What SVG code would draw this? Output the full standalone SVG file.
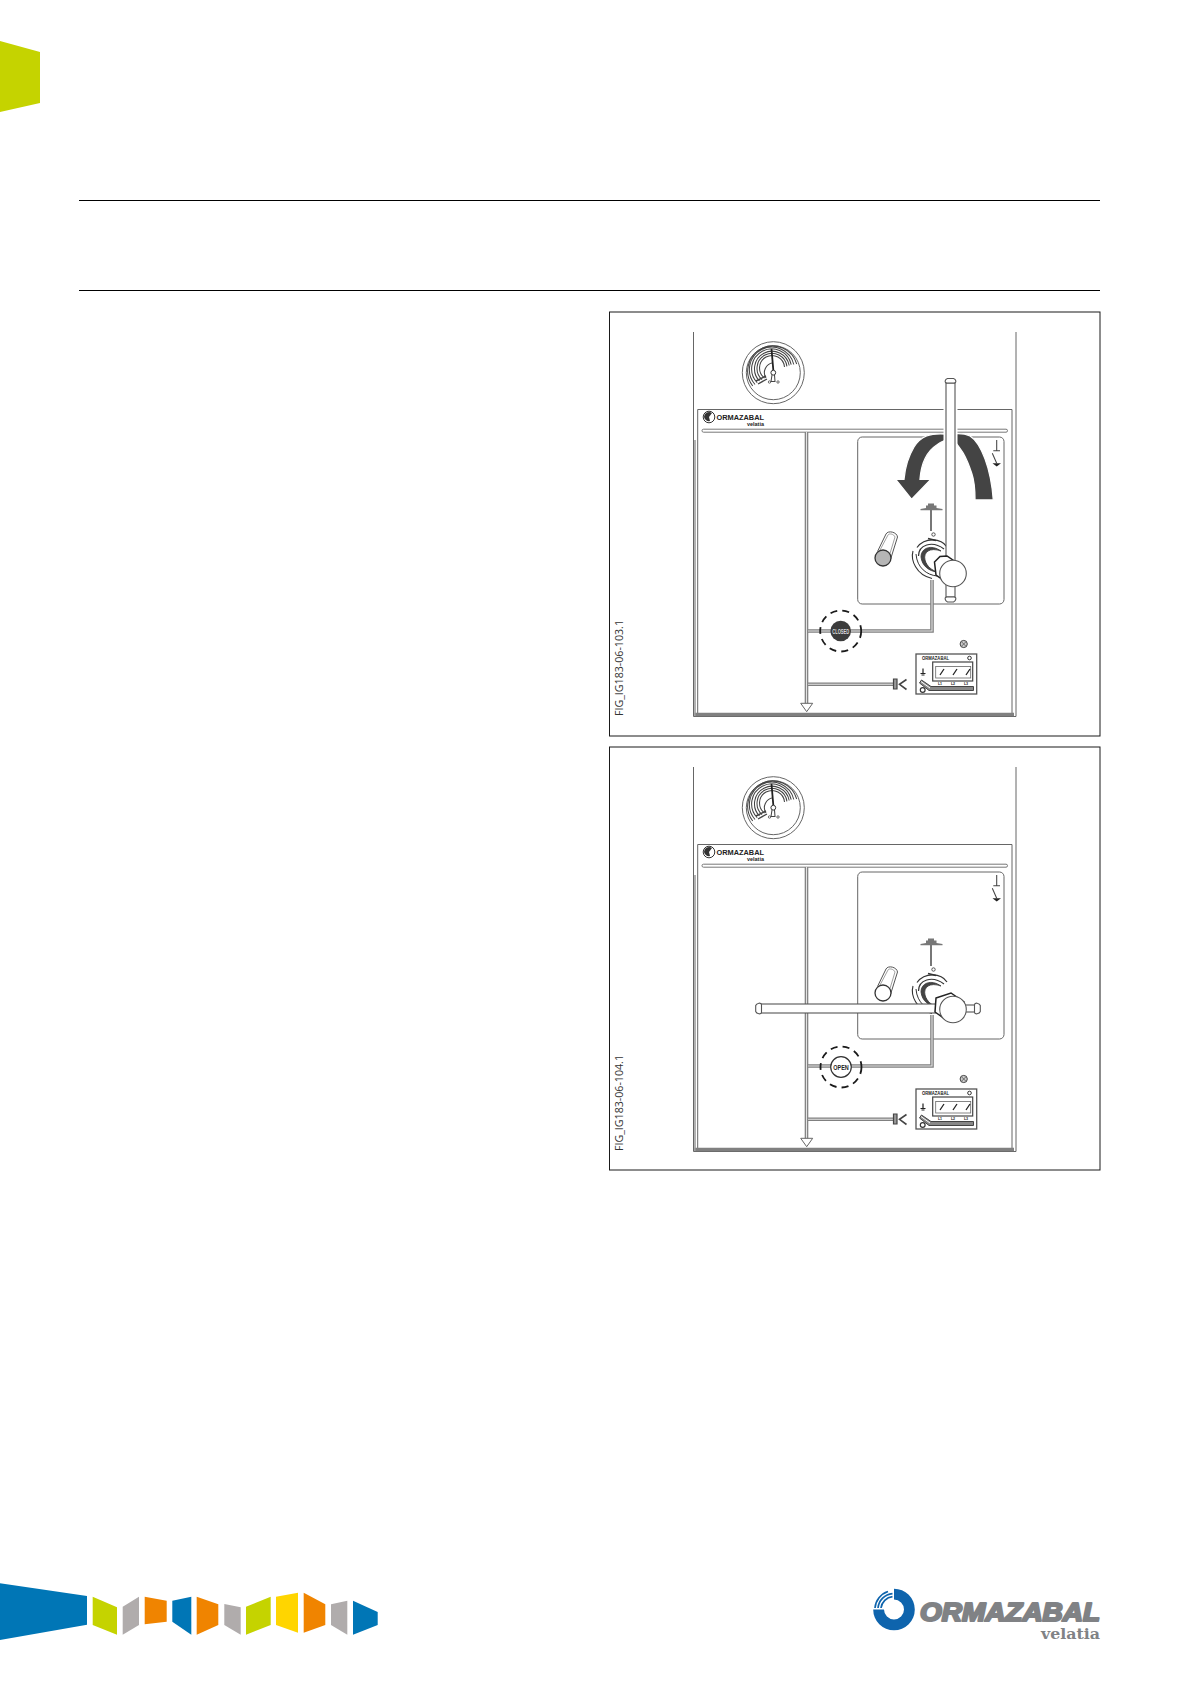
<svg xmlns="http://www.w3.org/2000/svg" width="1191" height="1684" viewBox="0 0 1191 1684">
<style>
.rule{stroke:#000;stroke-width:1;fill:none}
.frame{stroke:#1a1a1a;stroke-width:1;fill:#fff}
.thin{stroke:#666;stroke-width:1;fill:none}
.dbl{stroke:#808080;stroke-width:3.600;fill:none}
.dbi{stroke:#e4e4e4;stroke-width:1.100;fill:none}
.g{stroke:#444;stroke-width:1.050;fill:none}
.dash{stroke:#1a1a1a;stroke-width:1.800;fill:none;stroke-dasharray:7 5.200}
.fig{font-family:"Open Sans","Liberation Sans",sans-serif;font-size:10.500px;fill:#333}
.sm{font-family:"Liberation Sans",sans-serif;font-weight:bold;fill:#222}
.st{font-family:"Liberation Sans",sans-serif;font-weight:bold;text-anchor:middle}
</style>
<defs>
<g id="panel">
<path class="thin" stroke-width="1.400" d="M693.500 332V716.500H1016V332"/>
<path class="thin" d="M697.700 714V409.500H1012V714"/>
<path class="dbl" d="M694.500 714.500H1014"/>
<path d="M695 716V440" stroke="#999" stroke-width="1.500" fill="none"/>
<circle class="thin" cx="773.300" cy="372.700" r="31"/>
<circle class="thin" cx="773.300" cy="372.700" r="27"/>
<path class="g" d="M752.700 386A25 25 0 1 1 796.700 364M755 384.500A22.500 22.500 0 1 1 793.800 364.500M757.200 382.700A20 20 0 1 1 791.200 364.700M759.500 381A17.500 17.500 0 1 1 789.200 365.500M762 379.500A15 15 0 1 1 786.900 366.400M764.500 378A12.500 12.500 0 1 1 784.500 367M766 378A10 10 0 0 1 773 362.700"/>
<path d="M756 381L766 376M758 384L767 379" stroke="#444" stroke-width="1.400"/>
<path d="M771.500 349L773.300 370" stroke="#222" stroke-width="1.800"/>
<circle cx="773.300" cy="372.700" r="2.400" fill="#fff" stroke="#333"/>
<path class="g" d="M772 375L771 381.500H775L774.500 375"/>
<circle cx="769.500" cy="382" r="1.200" fill="#fff" stroke="#333" stroke-width=".7"/>
<circle cx="778" cy="382" r="1.200" fill="#fff" stroke="#333" stroke-width=".7"/>
<circle cx="709" cy="417" r="5.800" fill="#fff" stroke="#333"/>
<path d="M704 417A5 5 0 0 1 712 413L709 417L710 421A5 5 0 0 1 704 417Z" fill="#333"/>
<rect x="702" y="429.200" width="305.500" height="3" rx="1.500" fill="#fff" stroke="#777"/>
<path class="dbl" d="M806.500 432V704"/><path class="dbi" d="M806.500 432V704"/>
<path d="M800.700 703.300H812.700L806.700 711.700Z" fill="#fff" stroke="#666"/>
<rect class="thin" x="857.700" y="437" width="146.300" height="167" rx="4.500"/>
<path class="dbl" d="M808 631H932V580"/><path class="dbi" d="M808 631H932V580"/>
<path class="dbl" d="M808 684.300H893"/><path class="dbi" d="M808 684.300H893"/>
<path d="M893.500 679H897V689H893.500Z" fill="#999" stroke="#444" stroke-width="1.200"/>
<path d="M906.500 679.500L899.500 684.300L906.500 689.500" fill="none" stroke="#444" stroke-width="1.600"/>
<rect x="916" y="654" width="60.700" height="40" fill="#fff" stroke="#555" stroke-width="1.300"/>
<rect x="932.700" y="662" width="40" height="19" fill="none" stroke="#444" stroke-width="1.200"/>
<rect x="935.700" y="666.500" width="35" height="11.500" fill="none" stroke="#666" stroke-width=".8"/>
<path d="M940 675L944 669M953 675L957 669M966 675L970 669" stroke="#222" stroke-width="1.300"/>
<path d="M923 668.500V673.500M920.500 673.500H925.500M921.500 675H924.500" stroke="#222" stroke-width="1.200"/>
<path d="M921.500 680L931 686.500H973.500V690.500H929L919.500 683Z" fill="#888" stroke="#444" stroke-width="1"/>
<path d="M921 681.500L930 688" stroke="#fff"/>
<circle cx="922.700" cy="690" r="2.400" fill="#fff" stroke="#333" stroke-width="1.200"/>
<circle cx="969.500" cy="658" r="1.800" fill="#fff" stroke="#333"/>
<circle cx="963.700" cy="644" r="3.600" fill="#ccc" stroke="#444"/>
<path d="M961.700 642L965.700 646M965.700 642L961.700 646" stroke="#444" stroke-width=".7"/>
<path d="M996.700 440V450.700M993.300 450.700H1000M992.300 453.300L996.700 463.300" class="g"/>
<path d="M992.500 463.300H1001L996.700 466.500Z" fill="#222"/>
<path d="M920.500 510.300H942.500V509L936.500 508V505.500H934V503.500H928V505.500H926V508L920.500 509Z" fill="#777"/>
<path d="M931 510V531" stroke="#777" stroke-width="2"/>
<circle cx="933.500" cy="534.500" r="1.700" fill="#fff" stroke="#444" stroke-width=".9"/>
<g fill="none" stroke="#333">
<path d="M913 551C910.500 560 916 575 932 578.500" stroke-width="1.100"/>
<path d="M917 547.500C925 537 941 538 947 547" stroke-width="1.200"/>
<path d="M916 554C917 568 927 575 937 576" stroke-width="1"/>
<path d="M918.500 556C918.500 545 932 540 944 549" stroke-width="1.200"/>
<path d="M921 557C921 548 931 544 941 551C930 547 923 552 925 560C927 567 932 570 937 572C929 571 922 566 921 557Z" fill="#444" stroke-width=".8"/>
<path d="M928 538.500L936 540.500" stroke-width="1.400"/>
</g>
</g>
<g id="cyl">
<path d="M877.500 551.500L886 534C888 530 897 532 897.500 537L890 561" fill="#fff" stroke="#555"/>
<path d="M880 550L888 535C889 533 894 534 895 537L888 560" fill="none" stroke="#888" stroke-width=".8"/>
</g>
</defs>

<g id="page-tab"><polygon points="0,41 40,52 40,103 0,112" fill="#c5d300"/></g>
<line class="rule" x1="79" y1="200.500" x2="1100" y2="200.500"/>
<line class="rule" x1="79" y1="290.500" x2="1100" y2="290.500"/>

<g id="figure-closed">
<rect class="frame" x="609.500" y="312" width="490.500" height="424"/>
<use href="#panel"/>
<text class="sm" x="716.500" y="419.500" font-size="6.500" textLength="47.500" lengthAdjust="spacingAndGlyphs">ORMAZABAL</text>
<text class="sm" x="747" y="425.500" font-size="5" textLength="17" lengthAdjust="spacingAndGlyphs">velatia</text>
<text class="sm" x="922" y="660" font-size="4.500" textLength="27" lengthAdjust="spacingAndGlyphs">ORMAZABAL</text>
<g class="st" font-size="3.600" fill="#222"><text x="940" y="684.500">L1</text><text x="953" y="684.500">L2</text><text x="966" y="684.500">L3</text></g>
<g id="closed-indicator">
<circle class="dash" cx="840.700" cy="631" r="20.500"/>
<circle cx="840.700" cy="631" r="10.300" fill="#3c3c3c"/>
<text class="st" x="840.700" y="634" font-size="8" fill="#ddd" textLength="17" lengthAdjust="spacingAndGlyphs">CLOSED</text>
</g>
<g id="closed-cylinder"><use href="#cyl"/><ellipse cx="883" cy="558" rx="8" ry="8" fill="#b5b5b5" stroke="#333" stroke-width="1.300"/></g>
<g id="closed-arrows" fill="#444" stroke="#fff" stroke-width="1.300">
<path d="M945.700 434C930 433 921 436 914 447C908 457 905 468 904 479.300H895.700L911.700 499.300L931 479.300H920C921 466 926 452 936.700 445C940 442.500 943 441 945.700 440Z"/>
<path d="M951.700 434C960 433 966 434 970 436C981 443 991 468 993.300 500H975C975 487 974 480 971.700 473.300C969 465 966 458 963.300 453.300C959 447 955 441 951.700 438.300Z"/>
</g>
<g id="closed-handle" fill="#fff" stroke="#555" stroke-width="1.100">
<rect x="943.500" y="400" width="14" height="45" fill="#fff" stroke="none"/>
<rect x="946" y="383" width="9" height="214"/>
<path d="M947 383C944 383 945 379 947.500 378.500H953.500C956 379 957 383 954 383Z"/>
<path d="M947 597C944 597 945 601 947.500 602H953.500C956 601 957 597 954 597Z"/>
<path d="M934.500 562L940 556.500L947 556L960 565L946 582L936 575Z" fill="#fff" stroke="#222" stroke-width="1.500"/>
<circle cx="953" cy="573.500" r="13.300"/>
</g>
<text class="fig" transform="translate(623 716) rotate(-90)" textLength="96" lengthAdjust="spacingAndGlyphs">FIG_IG183-06-103.1</text>
</g>

<g id="figure-open">
<rect class="frame" x="609.500" y="747" width="490.500" height="423"/>
<use href="#panel" transform="translate(0 435)"/>
<text class="sm" x="716.500" y="854.500" font-size="6.500" textLength="47.500" lengthAdjust="spacingAndGlyphs">ORMAZABAL</text>
<text class="sm" x="747" y="860.500" font-size="5" textLength="17" lengthAdjust="spacingAndGlyphs">velatia</text>
<text class="sm" x="922" y="1095" font-size="4.500" textLength="27" lengthAdjust="spacingAndGlyphs">ORMAZABAL</text>
<g class="st" font-size="3.600" fill="#222"><text x="940" y="1119.500">L1</text><text x="953" y="1119.500">L2</text><text x="966" y="1119.500">L3</text></g>
<g id="open-indicator">
<circle class="dash" cx="841" cy="1067" r="20.500"/>
<circle cx="841" cy="1067" r="10.300" fill="#fff" stroke="#333" stroke-width="1.200"/>
<text class="st" x="841" y="1070" font-size="8" fill="#222" textLength="15.500" lengthAdjust="spacingAndGlyphs">OPEN</text>
</g>
<g id="open-cylinder"><use href="#cyl" transform="translate(0 435)"/><ellipse cx="883" cy="993" rx="8" ry="8" fill="#fff" stroke="#333" stroke-width="1.300"/></g>
<g id="open-handle" fill="#fff" stroke="#555" stroke-width="1.100">
<rect x="761" y="1004" width="175" height="9"/>
<path d="M761.500 1005C761.500 1002 756.500 1003 755.700 1005.500V1011.500C756.500 1014 761.500 1015 761.500 1012Z"/>
<rect x="965" y="1005" width="10" height="7"/>
<path d="M974.500 1005C974.500 1002 979.500 1003 980.300 1005.500V1011.500C979.500 1014 974.500 1015 974.500 1012Z"/>
<path d="M936 998L951 993L964 1002L945 1019L935 1012Z" fill="#fff" stroke="#222" stroke-width="1.500"/>
<circle cx="953" cy="1009.500" r="13.300"/>
</g>
<text class="fig" transform="translate(623 1151) rotate(-90)" textLength="96" lengthAdjust="spacingAndGlyphs">FIG_IG183-06-104.1</text>
</g>

<g id="footer-band">
<polygon fill="#0076b6" points="0,1583.300 87,1596 87,1624.700 0,1640"/>
<polygon fill="#c5d300" points="92.700,1596.700 117,1607.300 117,1634.700 92.700,1625"/>
<polygon fill="#b0acac" points="122.700,1606.700 139,1596.700 139,1625 122.700,1634.700"/>
<polygon fill="#f08400" points="144.700,1596.700 166.700,1600.700 166.700,1621.700 144.700,1624.300"/>
<polygon fill="#0076b6" points="172.300,1600.700 191.300,1596.700 191.300,1634.700 172.300,1621.700"/>
<polygon fill="#f08400" points="196.700,1596.700 218.300,1604.300 218.300,1625 196.700,1634.700"/>
<polygon fill="#b0acac" points="224.300,1604 240.700,1607.300 240.700,1634.700 224.300,1625"/>
<polygon fill="#c5d300" points="246,1606.700 270.700,1596.700 270.700,1625 246,1634.700"/>
<polygon fill="#ffd500" points="276,1596.700 298,1592.700 298,1632.700 276,1625"/>
<polygon fill="#f08400" points="303.700,1592.700 325.300,1604.300 325.300,1625 303.700,1632.700"/>
<polygon fill="#b0acac" points="331,1604.300 347.300,1600.700 347.300,1634.700 331,1625"/>
<polygon fill="#0076b6" points="353,1600.700 377.700,1612 377.700,1625 353,1634.700"/>
</g>
<g id="footer-logo">
<path d="M894 1588.700A20.800 20.800 0 1 1 873.200 1609.500H884A10 10 0 1 0 894 1599.500Z" fill="#0e64ad"/>
<g fill="none" stroke="#0e64ad" stroke-width="1.700">
<path d="M881 1608A13 13 0 0 1 892.500 1596.600"/>
<path d="M878 1608A16 16 0 0 1 892.500 1593.600"/>
<path d="M875 1608A19 19 0 0 1 888 1591.500"/>
</g>
<text x="920" y="1620.500" font-family="'Liberation Sans',sans-serif" font-size="26" font-weight="bold" font-style="italic" fill="#808285" stroke="#808285" stroke-width="2.200" stroke-linejoin="round" textLength="180" lengthAdjust="spacingAndGlyphs">ORMAZABAL</text>
<text x="1041" y="1639" font-family="'DejaVu Serif',serif" font-size="15" font-weight="bold" fill="#808285" textLength="59" lengthAdjust="spacingAndGlyphs">velatia</text>
</g>
</svg>
